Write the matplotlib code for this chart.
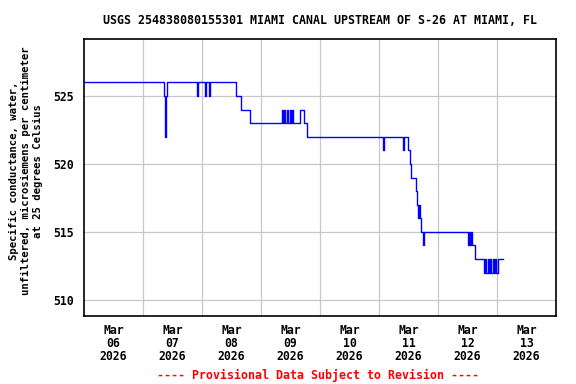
import datetime as dt
import matplotlib
matplotlib.use("Agg")
import matplotlib.pyplot as plt

# hours after 2026-03-06 00:00 where the value changes, and the new value
hours = [0.0, 32.5, 32.9, 33.4, 33.8, 46.0, 46.4, 49.2, 49.6, 50.9, 51.3,
         61.8, 63.9, 67.5,
         80.5, 80.9, 81.5, 81.9, 82.6, 83.0, 83.8, 84.2, 84.8, 85.2,
         87.9, 89.5, 90.7,
         121.6, 122.0, 129.7, 130.1, 131.8, 132.6, 133.0, 135.0, 135.4, 135.8,
         136.2, 136.6, 137.1, 137.9, 138.3,
         156.2, 156.6, 157.0, 157.4, 157.8, 159.1, 162.7,
         163.3, 163.7, 164.3, 164.7, 165.3, 165.7, 166.3, 166.7, 167.3, 167.7, 168.3]
values = [526, 525, 522, 525, 526, 525, 526, 525, 526, 525, 526,
          525, 524, 523,
          524, 523, 524, 523, 524, 523, 524, 523, 524, 523,
          524, 523, 522,
          521, 522, 521, 522, 521, 520, 519, 518, 517, 516,
          517, 516, 515, 514, 515,
          514, 515, 514, 515, 514, 513, 512,
          513, 512, 513, 512, 513, 512, 513, 512, 513, 512, 513]
end_hour = 170.5

start = dt.datetime(2026, 3, 6)
times = [start + dt.timedelta(hours=h) for h in hours] + [start + dt.timedelta(hours=end_hour)]
vals = values + [values[-1]]

day_labels = ["Mar\n06\n2026", "Mar\n07\n2026", "Mar\n08\n2026", "Mar\n09\n2026",
              "Mar\n10\n2026", "Mar\n11\n2026", "Mar\n12\n2026", "Mar\n13\n2026"]
y_ticks = [510, 515, 520, 525]

title = "USGS 254838080155301 MIAMI CANAL UPSTREAM OF S-26 AT MIAMI, FL"
ylabel = "Specific conductance, water,\nunfiltered, microsiemens per centimeter\nat 25 degrees Celsius"

plt.rcParams["font.family"] = "DejaVu Sans Mono"
fig = plt.figure(figsize=(5.76, 3.84), dpi=100)
ax = fig.add_axes([84 / 576, 1 - 316 / 384, 472 / 576, 277 / 384])

ax.plot(times, vals, drawstyle="steps-post", color="#0000ff", lw=1.0)

ax.set_xlim(start, start + dt.timedelta(days=8))
ax.set_ylim(508.8, 529.2)

# gridlines at midnight, labels at noon
ax.set_xticks([start + dt.timedelta(days=d) for d in range(1, 8)])
ax.set_xticklabels([])
ax.set_xticks([start + dt.timedelta(days=d, hours=12) for d in range(8)], minor=True)
ax.set_xticklabels(day_labels, minor=True, fontsize=8.3, fontweight="bold",
                   linespacing=0.98)
ax.tick_params(axis="x", which="both", length=0, pad=6)
ax.set_yticks(y_ticks)
ax.set_yticklabels([str(v) for v in y_ticks], fontsize=8.3, fontweight="bold")
ax.tick_params(axis="y", length=0, pad=7)
ax.grid(True, which="major", color="#c8c8c8", lw=0.9)
ax.set_axisbelow(True)
for s in ax.spines.values():
    s.set_linewidth(1.2)

fig.text(320 / 576, 1 - 20 / 384, title, ha="center", va="center",
         fontsize=8.4, fontweight="bold")
fig.text(26 / 576, 1 - 171 / 384, ylabel, ha="center", va="center", rotation=90,
         fontsize=7.7, fontweight="bold", linespacing=1.2, multialignment="center")
fig.text(318 / 576, 1 - 375 / 384, "---- Provisional Data Subject to Revision ----",
         ha="center", va="center", fontsize=8.4, fontweight="bold", color="red")

fig.savefig("out.png", dpi=100)
